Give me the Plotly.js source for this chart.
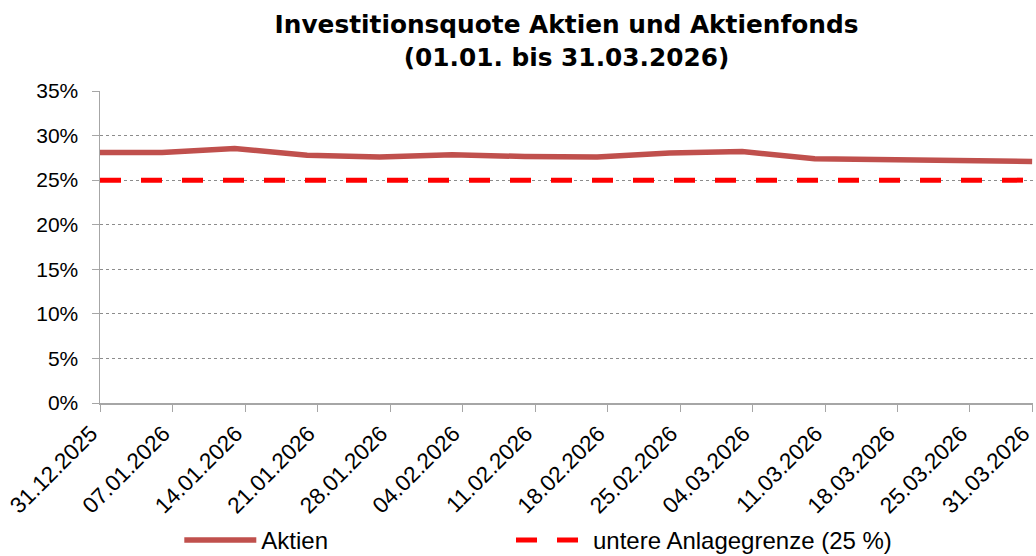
<!DOCTYPE html>
<html>
<head>
<meta charset="utf-8">
<script src="https://cdn.plot.ly/plotly-3.0.1.min.js"></script>
<style>html,body{margin:0;padding:0;background:#fff;}#chart{width:1036px;height:556px;}</style>
</head>
<body>
<div id="chart"></div>
<script>
// Data dates (weekly, Tuesdays) and values (%)
const dates = ["2025-12-31","2026-01-06","2026-01-13","2026-01-20","2026-01-27","2026-02-03","2026-02-10","2026-02-17","2026-02-24","2026-03-03","2026-03-10","2026-03-17","2026-03-24","2026-03-31"];
const aktien = [28.1, 28.1, 28.55, 27.8, 27.6, 27.85, 27.65, 27.6, 28.05, 28.2, 27.4, 27.35, 27.15, 27.1];
const untereGrenze = [25, 25, 25, 25, 25, 25, 25, 25, 25, 25, 25, 25, 25, 25];
const tickDates = ["2025-12-31","2026-01-07","2026-01-14","2026-01-21","2026-01-28","2026-02-04","2026-02-11","2026-02-18","2026-02-25","2026-03-04","2026-03-11","2026-03-18","2026-03-25","2026-03-31"];
const tickLabels = ["31.12.2025","07.01.2026","14.01.2026","21.01.2026","28.01.2026","04.02.2026","11.02.2026","18.02.2026","25.02.2026","04.03.2026","11.03.2026","18.03.2026","25.03.2026","31.03.2026"];
const yTicks = [0, 5, 10, 15, 20, 25, 30, 35];
const yLabels = ["0%","5%","10%","15%","20%","25%","30%","35%"];

const FONT = "'Liberation Sans', Arial, sans-serif";
const TFONT = "'DejaVu Sans', sans-serif";

const traces = [
  {
    x: dates, y: aktien, name: "Aktien", type: "scatter", mode: "lines",
    line: {color: "#C0504D", width: 5.5}, legend: "legend"
  },
  {
    x: dates, y: untereGrenze, name: "untere Anlagegrenze (25 %)", type: "scatter", mode: "lines",
    line: {color: "#FF0000", width: 5, dash: "21px,20px"}, legend: "legend2"
  }
];

const legendCommon = {
  orientation: "h", xanchor: "left", y: -0.44, yanchor: "middle",
  font: {family: FONT, size: 24, color: "#000"},
  itemwidth: 72, bgcolor: "rgba(0,0,0,0)"
};

const layout = {
  width: 1036, height: 556,
  margin: {l: 100, r: 3, t: 91, b: 153, autoexpand: false},
  paper_bgcolor: "#fff", plot_bgcolor: "#fff",
  font: {family: FONT, color: "#000", size: 21},
  title: {
    text: "<b>Investitionsquote Aktien und Aktienfonds</b><br><b>(01.01. bis 31.03.2026)</b>",
    font: {family: TFONT, size: 24.8, color: "#000"},
    x: 0.5, xref: "paper", xanchor: "center",
    y: 0.94, yref: "container", yanchor: "top"
  },
  xaxis: {
    type: "date",
    range: ["2025-12-31", "2026-03-31 02:00"],
    tickmode: "array", tickvals: tickDates, ticktext: tickLabels,
    tickangle: -45, ticks: "outside", ticklen: 7, tickcolor: "#A6A6A6", tickwidth: 1,
    showline: true, linecolor: "#A6A6A6", linewidth: 1.5,
    showgrid: false, zeroline: false, ticklabeloverflow: "allow",
    ticklabelshift: -9,
    tickfont: {family: FONT, size: 22.5, color: "#000"}
  },
  yaxis: {
    range: [0, 35], tickmode: "array", tickvals: yTicks, ticktext: yLabels,
    ticks: "outside", ticklen: 7, tickcolor: "#A6A6A6", tickwidth: 1,
    showline: true, linecolor: "#A6A6A6", linewidth: 1.5,
    showgrid: true, gridcolor: "#8C8C8C", gridwidth: 1, griddash: "dot",
    zeroline: false, ticklabelstandoff: 9,
    tickfont: {family: FONT, size: 21, color: "#000"}
  },
  showlegend: true,
  legend: Object.assign({}, legendCommon, {x: 0.085}),
  legend2: Object.assign({}, legendCommon, {x: 0.4405})
};

Plotly.newPlot("chart", traces, layout, {staticPlot: true, displayModeBar: false});
</script>
</body>
</html>
